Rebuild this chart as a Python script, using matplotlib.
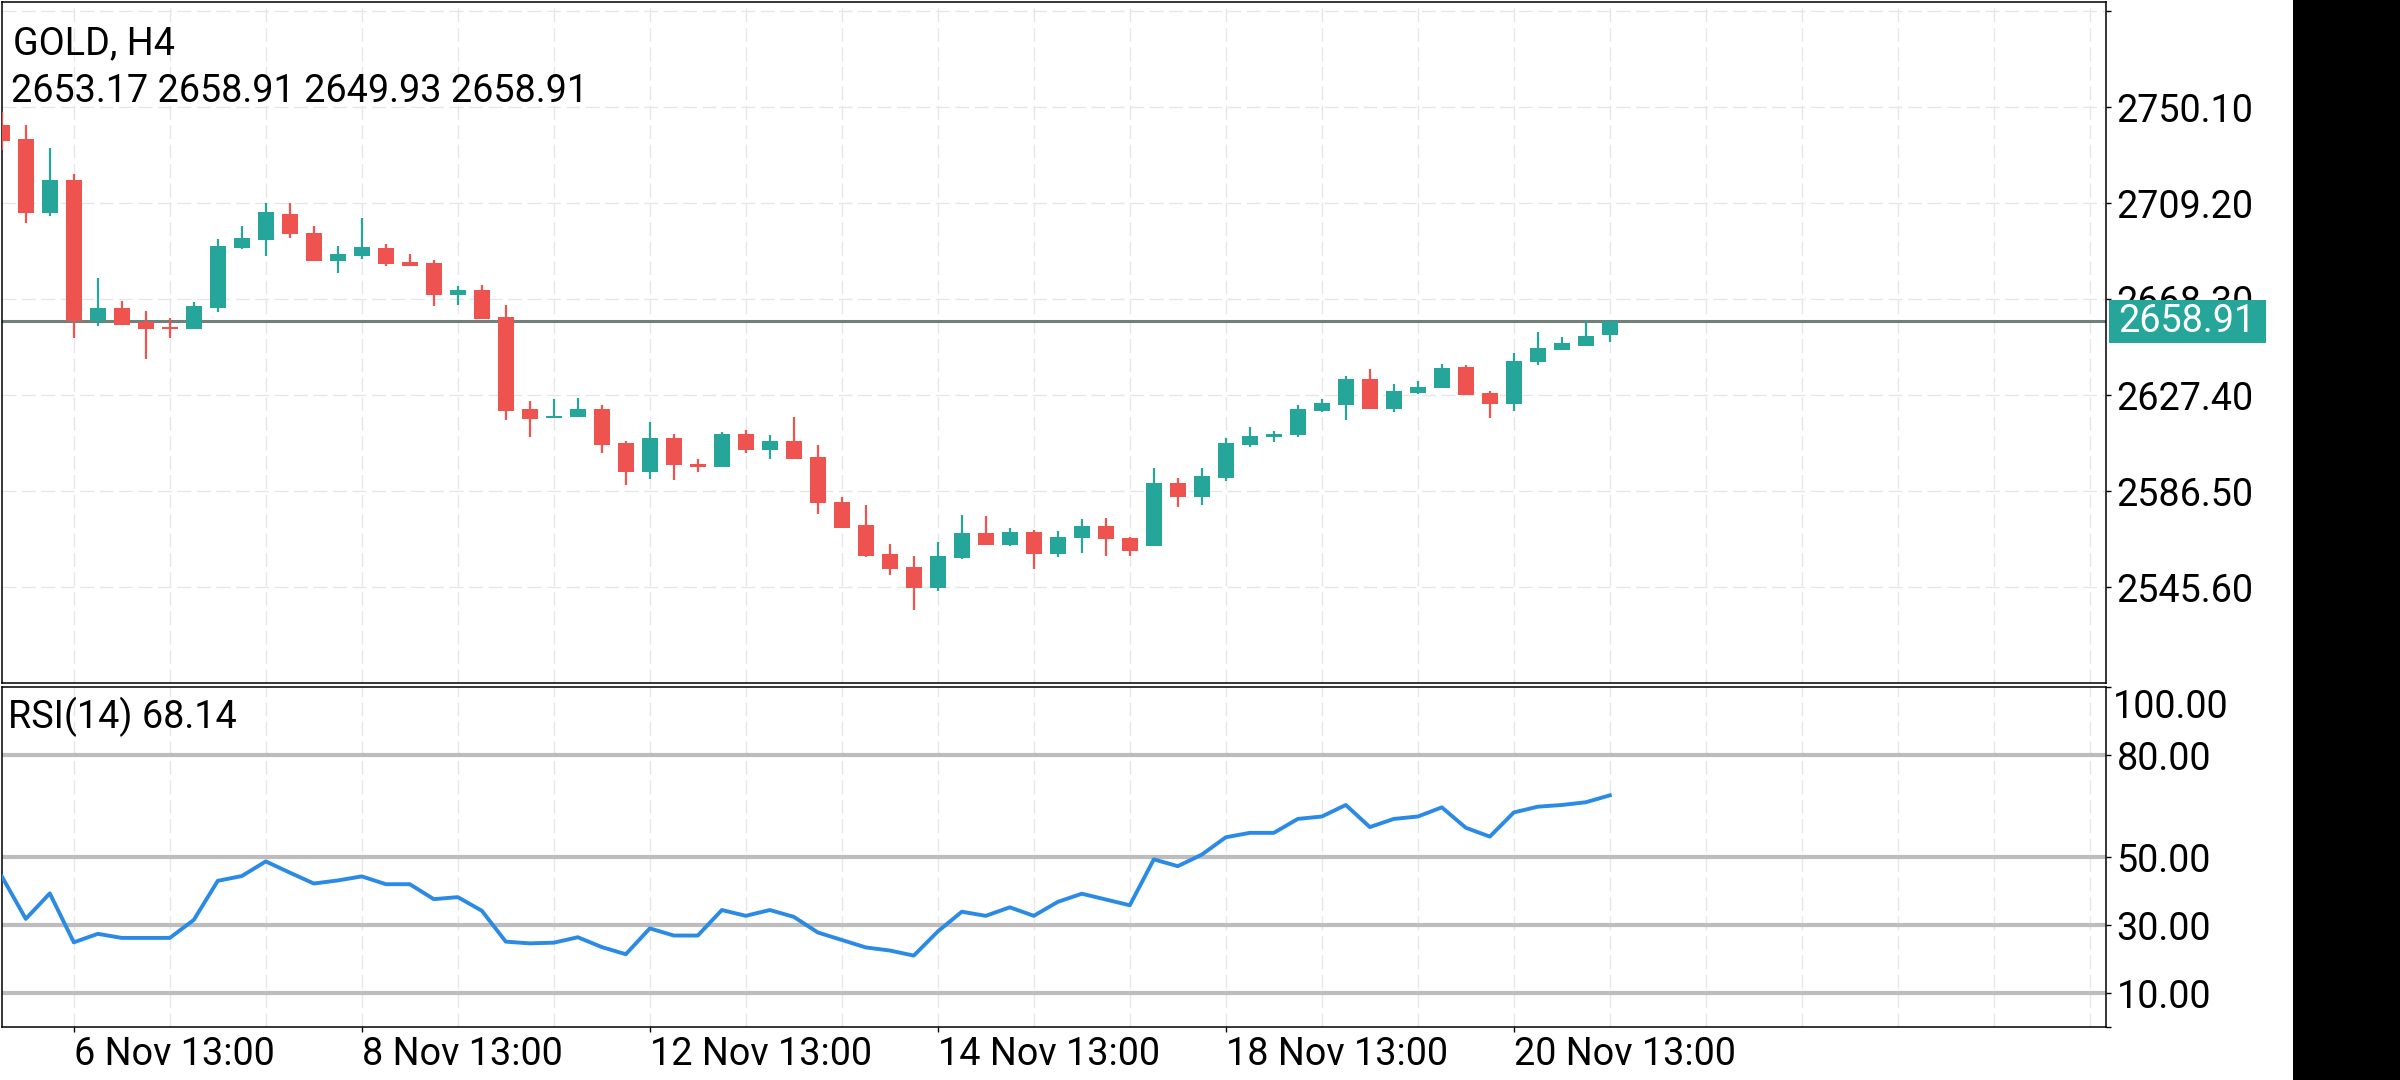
import matplotlib
matplotlib.use("Agg")
import matplotlib.pyplot as plt
from matplotlib.patches import Rectangle
import numpy as np

# ---------------- data ----------------
symbol = "GOLD, H4"
opens = [2742.5, 2736.4, 2705.0, 2719.1, 2658.8, 2664.5, 2658.4, 2656.5, 2655.4, 2664.5,
         2690.2, 2693.6, 2704.4, 2696.5, 2684.7, 2686.7, 2690.0, 2684.3, 2683.7, 2670.2,
         2672.1, 2660.7, 2621.5, 2617.7, 2618.0, 2621.3, 2607.0, 2594.8, 2609.3, 2598.2,
         2596.9, 2611.0, 2603.9, 2608.0, 2601.2, 2582.0, 2572.1, 2559.7, 2554.1, 2545.3,
         2558.1, 2568.7, 2563.6, 2568.9, 2559.8, 2566.3, 2571.7, 2566.5, 2563.2, 2590.0,
         2584.1, 2592.2, 2606.3, 2609.4, 2610.4, 2620.8, 2623.2, 2634.3, 2621.5, 2628.4,
         2630.2, 2639.4, 2628.4, 2623.4, 2641.3, 2646.8, 2648.5, 2653.17]
highs = [2748.2, 2742.5, 2732.6, 2721.6, 2677.2, 2667.3, 2663.2, 2660.1, 2667.0, 2694.0,
         2699.3, 2709.2, 2709.2, 2699.3, 2690.9, 2702.9, 2691.7, 2687.3, 2685.0, 2674.0,
         2674.4, 2665.8, 2625.0, 2625.5, 2626.3, 2623.0, 2607.7, 2616.1, 2610.9, 2600.3,
         2611.7, 2612.3, 2610.4, 2617.9, 2605.9, 2584.1, 2580.5, 2563.8, 2558.8, 2564.8,
         2576.4, 2575.9, 2570.6, 2570.0, 2569.5, 2574.7, 2575.1, 2566.8, 2596.2, 2592.0,
         2596.2, 2609.0, 2613.7, 2611.9, 2623.2, 2625.8, 2635.6, 2638.6, 2632.0, 2633.5,
         2640.7, 2640.3, 2629.2, 2645.4, 2654.4, 2652.1, 2658.8, 2658.91]
lows = [2732.0, 2700.6, 2703.5, 2651.6, 2656.9, 2657.4, 2642.6, 2651.7, 2655.4, 2662.6,
        2689.6, 2686.7, 2694.4, 2684.7, 2679.5, 2685.4, 2682.2, 2682.2, 2665.4, 2665.8,
        2659.7, 2616.9, 2609.4, 2617.5, 2618.0, 2602.5, 2588.9, 2591.8, 2591.3, 2594.5,
        2596.6, 2602.5, 2600.3, 2600.3, 2576.9, 2570.8, 2558.2, 2550.9, 2535.8, 2544.1,
        2557.7, 2563.3, 2562.9, 2553.4, 2558.5, 2560.3, 2558.6, 2558.8, 2563.2, 2579.5,
        2580.6, 2590.8, 2605.2, 2607.2, 2609.7, 2620.0, 2616.8, 2621.5, 2620.0, 2628.0,
        2630.2, 2627.5, 2617.8, 2620.4, 2640.0, 2646.5, 2648.1, 2649.93]
closes = [2735.8, 2705.0, 2719.1, 2658.8, 2664.5, 2657.4, 2655.6, 2655.4, 2665.4, 2690.9,
          2694.4, 2705.2, 2695.9, 2684.7, 2687.5, 2690.5, 2683.3, 2682.6, 2670.2, 2672.1,
          2659.7, 2620.7, 2617.2, 2618.4, 2621.3, 2606.3, 2594.8, 2609.3, 2597.5, 2596.6,
          2611.0, 2603.9, 2608.0, 2600.3, 2581.2, 2570.8, 2558.8, 2553.4, 2545.3, 2558.8,
          2568.7, 2563.3, 2568.9, 2559.8, 2566.8, 2571.7, 2566.0, 2561.1, 2590.0, 2584.1,
          2592.8, 2606.9, 2610.0, 2610.8, 2621.5, 2623.9, 2634.3, 2621.5, 2629.2, 2630.9,
          2639.0, 2627.5, 2623.4, 2642.0, 2647.5, 2649.7, 2652.7, 2658.91]
rsi = [44.3, 31.8, 39.3, 24.9, 27.4, 26.2, 26.2, 26.2, 31.5, 43.0,
       44.4, 48.7, 45.4, 42.2, 43.1, 44.3, 42.0, 42.0, 37.6, 38.2,
       34.2, 25.1, 24.6, 24.8, 26.4, 23.5, 21.4, 29.0, 26.9, 26.9,
       34.4, 32.7, 34.4, 32.4, 27.8, 25.6, 23.4, 22.5, 21.0, 28.1,
       33.9, 32.7, 35.2, 32.7, 36.8, 39.2, 37.5, 35.8, 49.3, 47.3,
       50.7, 55.8, 57.1, 57.1, 61.2, 61.9, 65.3, 58.8, 61.2, 61.9,
       64.6, 58.6, 56.0, 63.1, 64.8, 65.3, 66.1, 68.14]
rsi_period = 14
price_ticks = [2545.60, 2586.50, 2627.40, 2668.30, 2709.20, 2750.10, 2791.00]
rsi_ticks = [0, 10, 30, 50, 80, 100]
rsi_levels = [10, 30, 50, 80]
x_labels = ["6 Nov 13:00", "8 Nov 13:00", "12 Nov 13:00",
            "14 Nov 13:00", "18 Nov 13:00", "20 Nov 13:00"]
x_label_idx = [3, 15, 27, 39, 51, 63]

# ---------------- style ----------------
BULL = "#26a69a"
BEAR = "#ef5350"
PRICE_LINE = "#6f8179"
GRID = "#e6e6e6"
RSI_COL = "#2a8ae6"
LEVEL_COL = "#bdbdbd"
FS = 27.2

plt.rcParams['font.family'] = ['Roboto', 'DejaVu Sans']

W, H, DPI = 2400, 1080, 100
fig = plt.figure(figsize=(W / DPI, H / DPI), dpi=DPI)
fig.patch.set_facecolor("white")


def fx(px):
    return px / W


def fy(py):
    return 1 - py / H


AX_L, AX_R = 2, 2106
MAIN_T, MAIN_B = 2, 683
RSI_T, RSI_B = 687, 1027
STEP = 24.0      # px per candle
X0PX = 1.8       # px position of candle 0

ax = fig.add_axes([fx(AX_L), fy(MAIN_B), (AX_R - AX_L) / W, (MAIN_B - MAIN_T) / H])
ax2 = fig.add_axes([fx(AX_L), fy(RSI_B), (AX_R - AX_L) / W, (RSI_B - RSI_T) / H])

n = len(closes)
x = np.arange(n)
xlim = ((AX_L - X0PX) / STEP, (AX_R - X0PX) / STEP)

# price scale: 2750.10 at y=107.1 px, 2545.60 at y=587 px
ppx = (587.0 - 107.1) / (2750.10 - 2545.60)
ytop = 2750.10 + (107.1 - MAIN_T) / ppx
ybot = 2545.60 - (MAIN_B - 587.0) / ppx

for a in (ax, ax2):
    a.set_xlim(*xlim)
    for s in a.spines.values():
        s.set_linewidth(1.1)
        s.set_color("black")
    a.set_facecolor("white")

ax.set_ylim(ybot, ytop)

# grid
grid_x = np.arange(3, xlim[1], 4)
for gx in grid_x:
    ax.axvline(gx, color=GRID, lw=1.0, ls=(0, (10, 4)), zorder=0)
    ax2.axvline(gx, color=GRID, lw=1.0, ls=(0, (10, 4)), zorder=0)
for p in price_ticks:
    ax.axhline(p, color=GRID, lw=1.0, ls=(0, (10, 4)), zorder=0)

# current price line
ax.axhline(closes[-1], color=PRICE_LINE, lw=2.2, zorder=2)

# candles
o = np.array(opens)
c = np.array(closes)
cols = [BULL if cc >= oo else BEAR for oo, cc in zip(o, c)]
bottoms = np.minimum(o, c)
heights = np.maximum(np.abs(c - o), 0.9)
ax.vlines(x, lows, highs, colors=cols, lw=1.6, zorder=3)
ax.bar(x, heights, bottom=bottoms, width=0.667, color=cols, linewidth=0, zorder=4)

# price axis
ax.yaxis.tick_right()
ax.set_yticks(price_ticks)
ax.set_yticklabels([f"{p:.2f}" if p < ytop - 5 else "" for p in price_ticks])
ax.tick_params(axis="y", direction="out", length=3.6, width=1, pad=4,
               labelsize=FS, colors="black")
ax.tick_params(axis="x", bottom=False, labelbottom=False)

# RSI panel
ax2.set_ylim(0, 100)
for lv in rsi_levels:
    ax2.axhline(lv, color=LEVEL_COL, lw=3.0, zorder=2)
ax2.plot(x, rsi, color=RSI_COL, lw=2.8, zorder=3, solid_joinstyle="round")
ax2.yaxis.tick_right()
ax2.set_yticks(rsi_ticks)
ax2.set_yticklabels([f"{t:.2f}" if 0 < t < 100 else "" for t in rsi_ticks])
ax2.tick_params(axis="y", direction="out", length=3.6, width=1, pad=4,
                labelsize=FS, colors="black")
ax2.text(1.0 + 7 / (AX_R - AX_L), 100 - (707 - RSI_T) / ((RSI_B - RSI_T) / 100),
         f"{rsi_ticks[-1]:.2f}", transform=ax2.get_yaxis_transform(),
         ha="left", va="center", fontsize=FS)

ax2.set_xticks(x_label_idx)
ax2.set_xticklabels([""] * len(x_label_idx))
ax2.tick_params(axis="x", direction="out", length=3.6, width=1)
for xi, lab in zip(x_label_idx, x_labels):
    ax2.text(xi, -(1065 - RSI_B) / (RSI_B - RSI_T), lab,
             transform=ax2.get_xaxis_transform(), ha="left", va="baseline",
             fontsize=FS)

# header texts
fig.text(fx(13), fy(54.5), symbol, ha="left", va="baseline", fontsize=FS)
fig.text(fx(11), fy(102), f"{opens[-1]:.2f} {highs[-1]:.2f} {lows[-1]:.2f} {closes[-1]:.2f}",
         ha="left", va="baseline", fontsize=FS)
fig.text(fx(8), fy(728), f"RSI({rsi_period}) {rsi[-1]:.2f}", ha="left", va="baseline",
         fontsize=FS)

# current price box
fig.add_artist(Rectangle((fx(2109), fy(343)), 157 / W, 43 / H, transform=fig.transFigure,
                         facecolor=BULL, edgecolor="none", zorder=5))
fig.text(fx(2118), fy(321.5), f"{closes[-1]:.2f}", ha="left", va="center",
         color="white", fontsize=FS, zorder=6)

# black strip on right
fig.add_artist(Rectangle((fx(2293), 0), 1 - fx(2293), 1, transform=fig.transFigure,
                         facecolor="black", edgecolor="none", zorder=7))

fig.savefig("out.png", dpi=DPI)
